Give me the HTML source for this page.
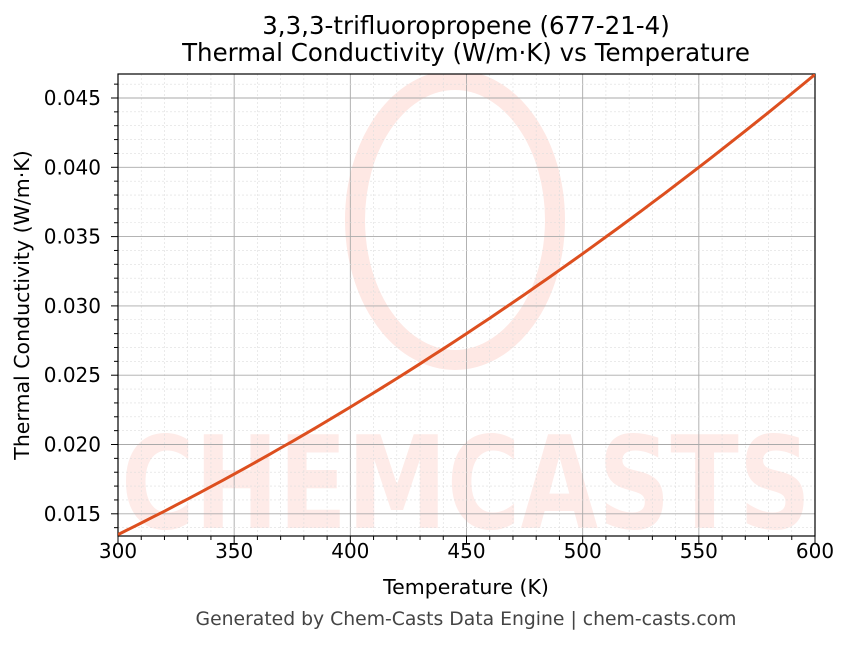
<!DOCTYPE html>
<html><head><meta charset="utf-8"><style>
body{margin:0;background:#fff;width:849px;height:644px;overflow:hidden}
text{font-family:"DejaVu Sans",sans-serif}
</style></head><body>
<svg id="s" width="849" height="644" xmlns="http://www.w3.org/2000/svg">
<defs><clipPath id="c"><rect x="118" y="74" width="697" height="462"/></clipPath></defs>
<g clip-path="url(#c)">
<ellipse cx="455" cy="220" rx="100" ry="140" fill="none" stroke="#fee8e4" stroke-width="20"/>
<text x="466" y="528" text-anchor="middle" font-size="128" font-weight="bold" fill="#feebe8" textLength="690" lengthAdjust="spacingAndGlyphs">CHEMCASTS</text>
</g>
<g id="grid"></g>
<rect x="118" y="74" width="697" height="462" fill="none" stroke="#000" stroke-width="1.2"/>
<g id="ticks"></g>
<polyline id="curve" fill="none" stroke="#dd4f1f" stroke-width="3" clip-path="url(#c)"/>
<text x="466" y="34" text-anchor="middle" font-size="24.5">3,3,3-trifluoropropene (677-21-4)</text>
<text x="466" y="61" text-anchor="middle" font-size="24.5">Thermal Conductivity (W/m·K) vs Temperature</text>
<text x="466" y="594" text-anchor="middle" font-size="20.5">Temperature (K)</text>
<text transform="translate(29,305) rotate(-90)" text-anchor="middle" font-size="20.5">Thermal Conductivity (W/m·K)</text>
<text x="466" y="625" text-anchor="middle" font-size="18.8" fill="#444">Generated by Chem-Casts Data Engine | chem-casts.com</text>
</svg>
<script>
function X(T){return 118+(T-300)*697/300}
function Y(v){return 98+(0.045-v)/0.005*69.3}
var g=document.getElementById("grid"),tk=document.getElementById("ticks"),h="",t="";
for(var T=300;T<=600;T+=10){var x=X(T),maj=T%50==0;
 h+='<line x1="'+x+'" x2="'+x+'" y1="74" y2="536" stroke="'+(maj?'#aaa':'#ddd')+'" stroke-width="'+(maj?0.9:0.6)+'" '+(maj?'':'stroke-dasharray="2,2"')+'/>';
 t+='<line x1="'+x+'" x2="'+x+'" y1="536" y2="'+(maj?543:540)+'" stroke="#000"/>';
 if(maj)t+='<text x="'+x+'" y="558" text-anchor="middle" font-size="20">'+T+'</text>';}
for(var i=13;i<=47;i++){var v=i/1000,y=Y(v);if(y<74||y>536)continue;var maj=i%5==0;
 h+='<line x1="118" x2="815" y1="'+y+'" y2="'+y+'" stroke="'+(maj?'#aaa':'#ddd')+'" stroke-width="'+(maj?0.9:0.6)+'" '+(maj?'':'stroke-dasharray="2,2"')+'/>';
 t+='<line x1="'+(maj?111:114)+'" x2="118" y1="'+y+'" y2="'+y+'" stroke="#000"/>';
 if(maj)t+='<text x="101" y="'+(y+7)+'" text-anchor="end" font-size="20">'+v.toFixed(3)+'</text>';}
g.innerHTML=h;tk.innerHTML=t;
var p=[];for(var T=300;T<=600;T+=5){var s=(T-300)/300,v=0.0135+0.0248*s+0.0084*s*s;p.push(X(T).toFixed(1)+","+Y(v).toFixed(1));}
document.getElementById("curve").setAttribute("points",p.join(" "));
</script>
</body></html>
